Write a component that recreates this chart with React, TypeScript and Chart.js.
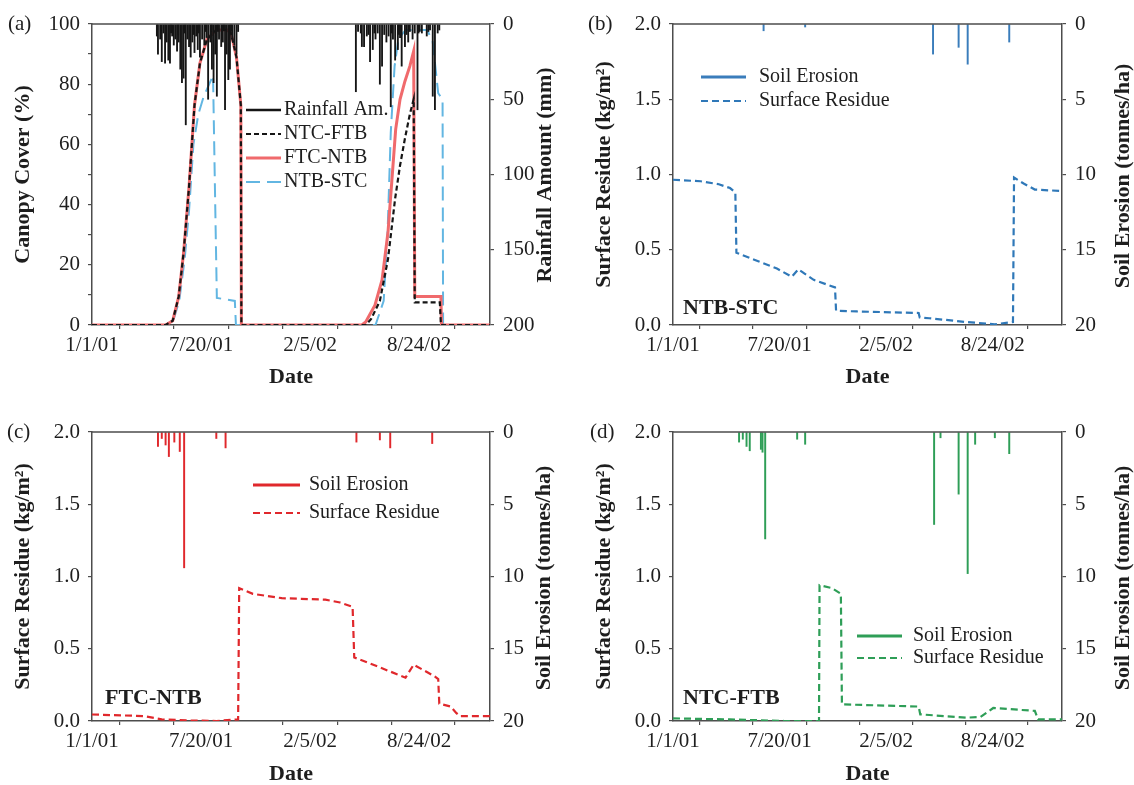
import React, { useEffect, useRef } from 'react';
import { Chart, registerables } from 'chart.js';

Chart.register(...registerables);

const SERIF = '"Liberation Serif", "Times New Roman", Times, serif';
const AXIS_COLOR = '#4d4d4d';
const TEXT_COLOR = '#1e1e1e';

// ---------- shared x axis (days since 1/1/01) ----------
const xTickDays = [0, 200, 400, 600];
const xTickLabels = ['1/1/01', '7/20/01', '2/5/02', '8/24/02'];
const xMinDay = 0;
const xMaxDay = 730;

// ---------- (a) rainfall (mm) ----------
const rainDays2001 = [119, 121, 125, 128, 131, 134, 137, 140, 143, 147, 150, 153, 156, 159, 162, 165, 168, 172, 175, 178, 181, 184, 188, 191, 194, 198, 202, 206, 210, 213, 217, 220, 223, 226, 229, 233, 237, 240, 244, 247, 250, 253, 257, 261, 265];
const rainMm2001 = [8, 20, 10, 25, 6, 26, 12, 24, 26, 8, 14, 10, 18, 12, 30, 39, 36, 67, 10, 15, 22, 12, 19, 8, 17, 22, 10, 14, 9, 50, 12, 30, 39, 20, 48, 10, 15, 12, 57, 20, 37, 30, 10, 14, 20];
const rainSmallDays2001 = [145, 158, 170, 186, 196, 208, 219, 231, 242, 255, 268];
const rainSmallMm2001 = [6, 7, 6, 7, 6, 5, 5, 5, 4, 5, 5];
const rainDays2002 = [484, 488, 495, 499, 504, 510, 515, 520, 524, 528, 532, 540, 544, 548, 552, 556, 561, 565, 568, 574, 577, 580, 588, 592, 597, 601, 605, 614, 620, 625, 629, 634];
const rainMm2002 = [45, 5, 15, 15, 8, 25, 17, 10, 6, 40, 28, 12, 8, 55, 10, 24, 17, 9, 28, 15, 7, 12, 10, 6, 57, 5, 6, 8, 4, 48, 57, 6];
const rainSmallDays2002 = [493, 507, 518, 536, 550, 563, 583, 599, 617, 637];
const rainSmallMm2002 = [6, 7, 6, 7, 6, 7, 5, 6, 5, 4];

// ---------- (a) canopy cover (%) ----------
const ntcFtbDays = [0, 135, 148, 159, 168, 178, 188, 198, 211, 228, 248, 255, 265, 273, 274, 502, 512, 528, 543, 556, 565, 574, 583, 590, 592, 638, 640, 730];
const ntcFtbCover = [0, 0, 1.4, 9.4, 24, 46, 73, 87, 95, 98, 98, 97, 89, 73, 0, 0, 2, 8, 22, 42, 53, 62, 70, 75, 7.5, 7.5, 0, 0];
const ftcNtbDays = [0, 135, 148, 159, 168, 178, 188, 198, 211, 228, 248, 255, 265, 273, 274, 495, 502, 519, 532, 543, 550, 557, 565, 574, 583, 590, 592, 640, 641, 730];
const ftcNtbCover = [0, 0, 1.4, 9.4, 24, 46, 73, 87, 95, 98, 98, 97, 89, 73, 0, 0, 1, 6.6, 15, 31, 48, 65, 75, 81, 86, 91, 9.5, 9.5, 0, 0];
const ntbStcDays = [0, 140, 150, 160, 170, 178, 186, 195, 205, 215, 222, 226, 229, 262, 264, 520, 535, 542, 548, 555, 562, 575, 615, 625, 635, 643, 644, 730];
const ntbStcCover = [0, 0, 2, 8, 22, 38, 60, 70, 76, 80, 83, 40, 9, 8, 0, 0, 8, 30, 64, 86, 95, 98, 98, 94, 77, 75, 0, 0];

// ---------- (b) NTB-STC ----------
const bResidueDays = [0, 52, 86, 107, 117, 119, 155, 195, 223, 235, 264, 304, 306, 345, 461, 463, 481, 550, 604, 638, 640, 658, 679, 730];
const bResidue = [0.965, 0.955, 0.935, 0.91, 0.88, 0.48, 0.43, 0.375, 0.32, 0.37, 0.3, 0.25, 0.095, 0.09, 0.08, 0.05, 0.045, 0.02, 0.005, 0.02, 0.98, 0.94, 0.9, 0.89];
const bErosionDays = [170, 248, 488, 536, 553, 631];
const bErosion = [0.45, 0.2, 2.0, 1.55, 2.67, 1.2];

// ---------- (c) FTC-NTB ----------
const cResidueDays = [0, 95, 128, 175, 228, 268, 270, 295, 348, 428, 455, 478, 481, 522, 575, 590, 628, 635, 637, 658, 668, 675, 730];
const cResidue = [0.045, 0.034, 0.011, 0.004, 0, 0.011, 0.92, 0.88, 0.85, 0.84, 0.82, 0.79, 0.44, 0.38, 0.3, 0.39, 0.31, 0.29, 0.12, 0.1, 0.056, 0.034, 0.034];
const cErosionDays = [121, 128, 135, 141, 151, 161, 169, 228, 245, 485, 528, 547, 624];
const cErosion = [1.0, 0.45, 0.9, 1.7, 0.7, 1.35, 9.4, 0.45, 1.1, 0.7, 0.55, 1.1, 0.8];

// ---------- (d) NTC-FTB ----------
const dResidueDays = [0, 107, 209, 274, 275, 298, 315, 317, 461, 464, 550, 577, 601, 679, 685, 730];
const dResidue = [0.018, 0.011, 0, 0, 0.94, 0.92, 0.88, 0.115, 0.1, 0.046, 0.023, 0.028, 0.09, 0.07, 0.011, 0.011];
const dErosionDays = [124, 131, 138, 144, 165, 168, 173, 233, 248, 490, 502, 536, 553, 567, 604, 631];
const dErosion = [0.7, 0.5, 1.0, 1.3, 1.2, 1.4, 7.4, 0.5, 0.85, 6.4, 0.4, 4.3, 9.8, 0.85, 0.4, 1.5];

function pts(days: number[], vals: number[]) {
  return days.map((d, i) => ({ x: d, y: vals[i] }));
}

interface TextSpec {
  text: string;
  x: number;
  y: number;
  size: number;
  bold?: boolean;
  rotate?: boolean;
  align?: CanvasTextAlign;
}

interface PanelSpec {
  left: number;
  top: number;
  w: number;
  h: number;
  plot: { l: number; r: number; t: number; b: number };
  yL: { min: number; max: number; step: number; labelEvery: number; decimals: number; title: string; titlePad: number };
  yR: { max: number; step: number };
  datasets: any[];
  legend: { x: number; y: number; rowH: number; lineLen: number; textX: number };
  texts: TextSpec[];
  dateTitlePad: number;
}

function makeDecor(spec: PanelSpec) {
  return {
    id: 'decor',
    afterDraw(chart: any) {
      const ctx: CanvasRenderingContext2D = chart.ctx;
      const ca = chart.chartArea;
      ctx.save();
      // top frame line
      ctx.strokeStyle = AXIS_COLOR;
      ctx.lineWidth = 1.5;
      ctx.setLineDash([]);
      ctx.beginPath();
      ctx.moveTo(ca.left, ca.top);
      ctx.lineTo(ca.right, ca.top);
      ctx.stroke();
      // legend
      const lg = spec.legend;
      chart.data.datasets.forEach((ds: any, i: number) => {
        const y = lg.y + i * lg.rowH;
        ctx.strokeStyle = ds.legendColor || ds.borderColor;
        ctx.lineWidth = ds.legendWidth || ds.borderWidth;
        ctx.setLineDash(ds.borderDash || []);
        ctx.beginPath();
        ctx.moveTo(lg.x, y);
        ctx.lineTo(lg.x + lg.lineLen, y);
        ctx.stroke();
        ctx.setLineDash([]);
        ctx.fillStyle = TEXT_COLOR;
        ctx.font = `20px ${SERIF}`;
        ctx.textAlign = 'left';
        ctx.textBaseline = 'middle';
        ctx.fillText(ds.label, lg.textX, y);
      });
      // free texts
      for (const t of spec.texts) {
        ctx.fillStyle = TEXT_COLOR;
        ctx.font = `${t.bold ? 'bold ' : ''}${t.size}px ${SERIF}`;
        ctx.textBaseline = 'middle';
        if (t.rotate) {
          ctx.save();
          ctx.translate(t.x, t.y);
          ctx.rotate(-Math.PI / 2);
          ctx.textAlign = 'center';
          ctx.fillText(t.text, 0, 0);
          ctx.restore();
        } else {
          ctx.textAlign = t.align || 'left';
          ctx.fillText(t.text, t.x, t.y);
        }
      }
      ctx.restore();
    },
  };
}

function buildConfig(spec: PanelSpec): any {
  const leftW = spec.plot.l;
  const rightW = spec.w - spec.plot.r;
  const xAxisH = spec.h - spec.plot.b;
  const tickFont = { size: 21, family: SERIF };
  return {
    type: 'line',
    data: { datasets: spec.datasets },
    options: {
      responsive: false,
      animation: false,
      devicePixelRatio: 1,
      layout: { padding: { top: spec.plot.t, left: 0, right: 0, bottom: 0 } },
      plugins: { legend: { display: false }, tooltip: { enabled: false } },
      elements: { point: { radius: 0 }, line: { tension: 0 } },
      scales: {
        x: {
          type: 'linear',
          position: 'bottom',
          min: xMinDay,
          max: xMaxDay,
          offset: false,
          ticks: {
            stepSize: 100,
            autoSkip: false,
            maxRotation: 0,
            padding: 4,
            color: TEXT_COLOR,
            font: tickFont,
            callback: (v: number) => {
              const i = xTickDays.indexOf(v);
              return i >= 0 ? xTickLabels[i] : '';
            },
          },
          grid: { drawOnChartArea: false, drawTicks: true, tickLength: 4, color: AXIS_COLOR, lineWidth: 1.2 },
          border: { color: AXIS_COLOR, width: 1.5 },
          title: {
            display: true,
            text: 'Date',
            color: TEXT_COLOR,
            font: { size: 22, weight: 'bold', family: SERIF },
            padding: { top: 0, bottom: spec.dateTitlePad },
          },
          afterFit: (s: any) => {
            s.height = xAxisH;
          },
        },
        yL: {
          type: 'linear',
          position: 'left',
          min: spec.yL.min,
          max: spec.yL.max,
          ticks: {
            stepSize: spec.yL.step,
            padding: 8,
            color: TEXT_COLOR,
            font: tickFont,
            callback: (v: number) => {
              const r = v / spec.yL.labelEvery;
              return Math.abs(r - Math.round(r)) < 1e-6 ? v.toFixed(spec.yL.decimals) : '';
            },
          },
          grid: { drawOnChartArea: false, drawTicks: true, tickLength: 4, color: AXIS_COLOR, lineWidth: 1.2 },
          border: { color: AXIS_COLOR, width: 1.5 },
          title: {
            display: true,
            text: spec.yL.title,
            color: TEXT_COLOR,
            font: { size: 22, weight: 'bold', family: SERIF },
            padding: { top: spec.yL.titlePad, bottom: 0 },
          },
          afterFit: (s: any) => {
            s.width = leftW;
          },
        },
        yR: {
          type: 'linear',
          position: 'right',
          min: 0,
          max: spec.yR.max,
          reverse: true,
          ticks: {
            stepSize: spec.yR.step,
            padding: 9,
            color: TEXT_COLOR,
            font: tickFont,
          },
          grid: { drawOnChartArea: false, drawTicks: true, tickLength: 4, color: AXIS_COLOR, lineWidth: 1.2 },
          border: { color: AXIS_COLOR, width: 1.5 },
          afterFit: (s: any) => {
            s.width = rightW;
          },
        },
      },
    },
    plugins: [makeDecor(spec)],
  };
}

function erosionBars(label: string, days: number[], vals: number[], color: string) {
  return {
    type: 'bar',
    label,
    data: pts(days, vals),
    backgroundColor: color,
    borderColor: color,
    borderWidth: 0,
    barThickness: 1.3,
    xAxisID: 'x',
    yAxisID: 'yR',
    legendWidth: 3,
  };
}

function residueLine(label: string, days: number[], vals: number[], color: string) {
  return {
    type: 'line',
    label,
    data: pts(days, vals),
    borderColor: color,
    borderWidth: 2.2,
    borderDash: [7, 4],
    pointRadius: 0,
    fill: false,
    xAxisID: 'x',
    yAxisID: 'yL',
    legendWidth: 2.2,
  };
}

const residueAxis = (titlePad: number) => ({
  min: 0,
  max: 2,
  step: 0.5,
  labelEvery: 0.5,
  decimals: 1,
  title: 'Surface Residue (kg/m²)',
  titlePad,
});

const panels: PanelSpec[] = [
  {
    left: 0,
    top: 0,
    w: 567,
    h: 392,
    plot: { l: 92, r: 490, t: 24, b: 325 },
    yL: { min: 0, max: 100, step: 10, labelEvery: 20, decimals: 0, title: 'Canopy Cover (%)', titlePad: 10 },
    yR: { max: 200, step: 50 },
    datasets: [
      {
        type: 'bar',
        label: 'Rainfall Am.',
        data: [
          ...pts(rainDays2001, rainMm2001),
          ...pts(rainSmallDays2001, rainSmallMm2001),
          ...pts(rainDays2002, rainMm2002),
          ...pts(rainSmallDays2002, rainSmallMm2002),
        ],
        backgroundColor: '#151515',
        borderColor: '#151515',
        borderWidth: 0,
        barThickness: 1.2,
        xAxisID: 'x',
        yAxisID: 'yR',
        legendWidth: 2.6,
      },
      {
        type: 'line',
        label: 'NTC-FTB',
        data: pts(ntcFtbDays, ntcFtbCover),
        borderColor: '#151515',
        borderWidth: 2.2,
        borderDash: [5, 3],
        pointRadius: 0,
        fill: false,
        xAxisID: 'x',
        yAxisID: 'yL',
      },
      {
        type: 'line',
        label: 'FTC-NTB',
        data: pts(ftcNtbDays, ftcNtbCover),
        borderColor: '#f06a6c',
        borderWidth: 3,
        pointRadius: 0,
        fill: false,
        xAxisID: 'x',
        yAxisID: 'yL',
      },
      {
        type: 'line',
        label: 'NTB-STC',
        data: pts(ntbStcDays, ntbStcCover),
        borderColor: '#62b6e2',
        borderWidth: 2,
        borderDash: [14, 7],
        pointRadius: 0,
        fill: false,
        xAxisID: 'x',
        yAxisID: 'yL',
      },
    ],
    legend: { x: 246, y: 110, rowH: 24, lineLen: 35, textX: 284 },
    texts: [
      { text: '(a)', x: 8, y: 24, size: 21 },
      { text: 'Rainfall Amount (mm)', x: 545, y: 175, size: 22, bold: true, rotate: true },
    ],
    dateTitlePad: 1,
  },
  {
    left: 567,
    top: 0,
    w: 567,
    h: 392,
    plot: { l: 106, r: 495, t: 24, b: 325 },
    yL: residueAxis(24),
    yR: { max: 20, step: 5 },
    datasets: [
      erosionBars('Soil Erosion', bErosionDays, bErosion, '#3a7dbb'),
      residueLine('Surface Residue', bResidueDays, bResidue, '#2f78b8'),
    ],
    legend: { x: 134, y: 77, rowH: 24, lineLen: 45, textX: 192 },
    texts: [
      { text: '(b)', x: 21, y: 24, size: 21 },
      { text: 'Soil Erosion (tonnes/ha)', x: 556, y: 176, size: 22, bold: true, rotate: true },
      { text: 'NTB-STC', x: 116, y: 308, size: 22, bold: true },
    ],
    dateTitlePad: 1,
  },
  {
    left: 0,
    top: 392,
    w: 567,
    h: 393,
    plot: { l: 92, r: 490, t: 40, b: 329 },
    yL: residueAxis(10),
    yR: { max: 20, step: 5 },
    datasets: [
      erosionBars('Soil Erosion', cErosionDays, cErosion, '#e0282c'),
      residueLine('Surface Residue', cResidueDays, cResidue, '#e0282c'),
    ],
    legend: { x: 253, y: 93, rowH: 28, lineLen: 47, textX: 309 },
    texts: [
      { text: '(c)', x: 7, y: 40, size: 21 },
      { text: 'Soil Erosion (tonnes/ha)', x: 544, y: 186, size: 22, bold: true, rotate: true },
      { text: 'FTC-NTB', x: 105, y: 306, size: 22, bold: true },
    ],
    dateTitlePad: -3,
  },
  {
    left: 567,
    top: 392,
    w: 567,
    h: 393,
    plot: { l: 106, r: 495, t: 40, b: 329 },
    yL: residueAxis(24),
    yR: { max: 20, step: 5 },
    datasets: [
      erosionBars('Soil Erosion', dErosionDays, dErosion, '#2e9e57'),
      residueLine('Surface Residue', dResidueDays, dResidue, '#2e9e57'),
    ],
    legend: { x: 290, y: 244, rowH: 22, lineLen: 45, textX: 346 },
    texts: [
      { text: '(d)', x: 23, y: 40, size: 21 },
      { text: 'Soil Erosion (tonnes/ha)', x: 556, y: 186, size: 22, bold: true, rotate: true },
      { text: 'NTC-FTB', x: 116, y: 306, size: 22, bold: true },
    ],
    dateTitlePad: -3,
  },
];

function Panel({ spec }: { spec: PanelSpec }) {
  const ref = useRef<HTMLCanvasElement | null>(null);
  useEffect(() => {
    if (!ref.current) return;
    const chart = new Chart(ref.current, buildConfig(spec));
    return () => chart.destroy();
  }, [spec]);
  return (
    <canvas
      ref={ref}
      width={spec.w}
      height={spec.h}
      style={{ position: 'absolute', left: spec.left, top: spec.top, width: spec.w, height: spec.h }}
    />
  );
}

export default function App() {
  Chart.defaults.font.family = SERIF;
  return (
    <div style={{ position: 'absolute', left: 0, top: 0, width: 1134, height: 785, background: '#fff', overflow: 'hidden' }}>
      {panels.map((p, i) => (
        <Panel key={i} spec={p} />
      ))}
    </div>
  );
}
